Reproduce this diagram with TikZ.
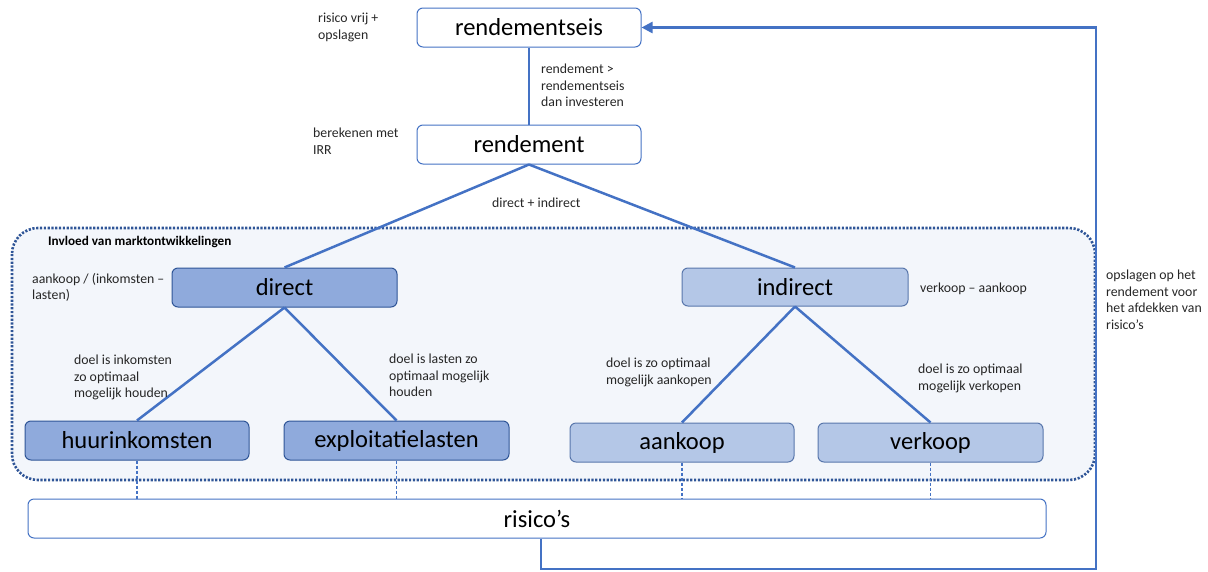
\documentclass[tikz,border=0pt]{standalone}
\usepackage{fontspec}
\setmainfont{Carlito}
\usetikzlibrary{arrows.meta}
\definecolor{accent}{HTML}{4472C4}
\definecolor{darkline}{HTML}{2F5597}
\definecolor{midfill}{HTML}{8FAADC}
\definecolor{lightfill}{HTML}{B4C7E7}
\definecolor{zonefill}{HTML}{F3F6FB}
\definecolor{txt}{HTML}{262626}

\begin{document}
\begin{tikzpicture}[x=1pt, y=-1pt,
  box/.style={draw=accent, line width=1pt, rounded corners=6pt, fill=white,
    minimum width=224pt, minimum height=39pt, inner sep=0pt, text=black,
    font=\fontsize{24.5}{26}\selectfont},
  midbox/.style={box, draw=darkline, fill=midfill},
  lightbox/.style={box, draw=darkline!80, fill=lightfill},
  note/.style={anchor=north west, inner sep=0pt, align=left, text=txt,
    font=\fontsize{13.8}{16.5}\selectfont},
  flow/.style={draw=accent, line width=2.5pt},
  riskline/.style={draw=accent, line width=1.2pt, dash pattern=on 3pt off 2pt},
  zone/.style={draw=darkline, fill=zonefill, line width=2.6pt,
    dash pattern=on 2.2pt off 1.6pt, rounded corners=26pt}
]
\useasboundingbox (0,0) rectangle (1208,571);

% market zone
\path[zone] (12,228) rectangle (1095,480);
\node[note, font=\bfseries\fontsize{13.2}{15}\selectfont, text=black] (zonetitle) at (48,236) {Invloed van marktontwikkelingen};

% boxes
\node[box] (eis) at (529,27.5) {rendementseis};
\node[box] (rend) at (529,144.5) {rendement};
\node[midbox, minimum width=225pt] (direct) at (284.5,287.5) {direct};
\node[lightbox, minimum width=226pt, minimum height=38pt] (indirect) at (795,287) {indirect};
\node[midbox] (huur) at (137,440.5) {huurinkomsten};
\node[midbox, minimum width=225pt] (expl) at (396.5,440.5) {exploitatielasten};
\node[lightbox] (aank) at (682,442.5) {aankoop};
\node[lightbox, minimum width=225pt] (verk) at (930.5,442.5) {verkoop};
\node[box, minimum width=1018pt] (risk) at (537,518.5) {risico’s};

% tree connectors
\draw[flow, line width=2pt] (eis.south) -- (rend.north);
\draw[flow] (rend.south) -- (direct.north);
\draw[flow] (rend.south) -- (indirect.north);
\draw[flow] (direct.south) -- (huur.north);
\draw[flow] (direct.south) -- (expl.north);
\draw[flow] (indirect.south) -- (aank.north);
\draw[flow] (indirect.south) -- (verk.north);

% links to the risks bar
\draw[riskline] (huur.south) -- (huur.south |- risk.north);
\draw[riskline] (expl.south) -- (expl.south |- risk.north);
\draw[riskline] (aank.south) -- (aank.south |- risk.north);
\draw[riskline] (verk.south) -- (verk.south |- risk.north);

% feedback loop from risks to the required return
\coordinate (fbl) at (541,569);
\coordinate (fbr) at (1096,569);
\draw[flow, -{Triangle[length=11pt, width=11pt]}]
  (risk.south -| fbl) -- (fbl) -- (fbr) |- (eis.east);

% annotations
\node[note] (n1) at (318,13) {risico vrij +\\opslagen};
\node[note] (n2) at (541,64) {rendement >\\rendementseis\\dan investeren};
\node[note] (n3) at (313,128) {berekenen met\\IRR};
\node[note] (n4) at (492,198) {direct + indirect};
\node[note] (n5) at (32,273) {aankoop / (inkomsten –\\lasten)};
\node[note] (n6) at (920,283) {verkoop – aankoop};
\node[note] (n7) at (74,355) {doel is inkomsten\\zo optimaal\\mogelijk houden};
\node[note] (n8) at (389,354) {doel is lasten zo\\optimaal mogelijk\\houden};
\node[note] (n9) at (606,358) {doel is zo optimaal\\mogelijk aankopen};
\node[note] (n10) at (918,364) {doel is zo optimaal\\mogelijk verkopen};
\node[note] (n11) at (1106,270) {opslagen op het\\rendement voor\\het afdekken van\\risico’s};
\end{tikzpicture}
\end{document}
